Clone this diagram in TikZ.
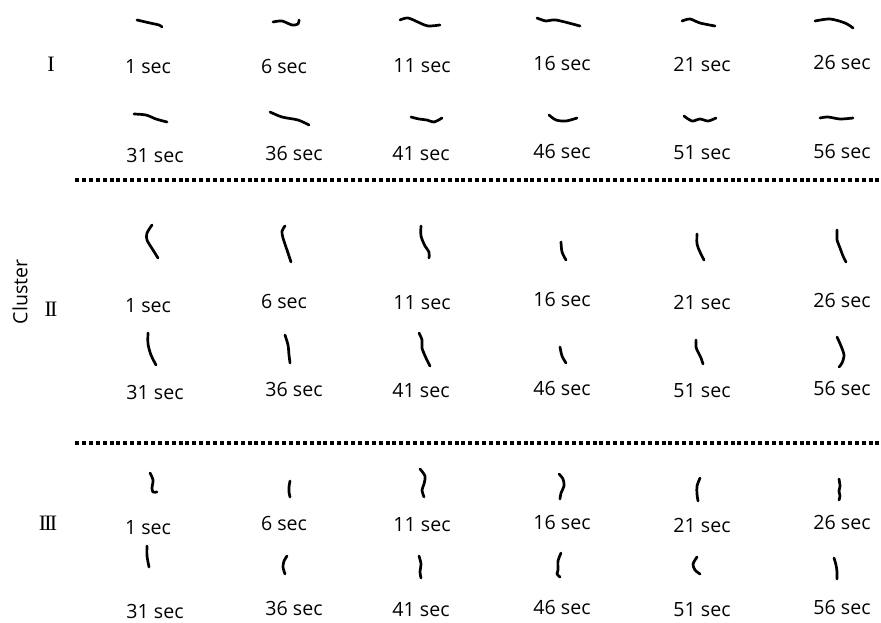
\documentclass[tikz,border=0pt]{standalone}
\usepackage{fontspec}
\setmainfont{Open Sans}
\newfontfamily\numfont{Liberation Serif}
\usetikzlibrary{arrows.meta}

\begin{document}
\begin{tikzpicture}[
    x=0.5pt,y=-0.5pt,
    timelabel/.style={font=\fontsize{9.8}{11}\selectfont,inner sep=0pt},
    clusterlabel/.style={font=\numfont\fontsize{11}{13}\selectfont,inner sep=0pt},
    axislabel/.style={font=\fontsize{9.8}{11}\selectfont,inner sep=0pt,rotate=90},
    stroke/.style={line width=1.35pt,line cap=round,line join=round},
    sep/.style={line width=2pt,dash pattern=on 2pt off 1.45pt}
]
\useasboundingbox (0,0) rectangle (881,622);

% axis and cluster names
\node[axislabel] (cluster) at (20,292) {Cluster};
\node[clusterlabel] (cI) at (51,64) {I};
\node[clusterlabel] (cII) at (51,309) {I\kern-0.08emI};
\node[clusterlabel] (cIII) at (48,523) {I\kern-0.08emI\kern-0.08emI};

% separators
\coordinate (s1a) at (75,180);
\coordinate (s1b) at (881,180);
\coordinate (s2a) at (75,443);
\coordinate (s2b) at (881,443);
\draw[sep] (s1a) -- (s1b);
\draw[sep] (s2a) -- (s2b);

% Cluster I
\foreach \k/\x/\y in {1/148/67,6/284/66,11/422/66,16/562/63,21/702/64,26/842/62,
                      31/155/155,36/294/153,41/421/154,46/562/151,51/702/153,56/842/151}
  \node[timelabel] (tI-\k) at (\x,\y) {\k\ sec};
\draw[stroke] plot[smooth] coordinates {(137,20) (150,23) (159,25) (162,27)};
\draw[stroke] plot[smooth] coordinates {(273,22) (282,21) (292,25) (298,24) (299,20)};
\draw[stroke] plot[smooth] coordinates {(400,20) (408,18) (420,23) (428,26) (440,25)};
\draw[stroke] plot[smooth] coordinates {(537,18) (546,21) (556,20) (580,26)};
\draw[stroke] plot[smooth] coordinates {(682,21) (690,19) (700,23) (715,26)};
\draw[stroke] plot[smooth] coordinates {(815,21) (830,19) (845,23) (853,28)};

\draw[stroke] plot[smooth] coordinates {(134,114) (146,115) (156,119) (167,122)};
\draw[stroke] plot[smooth] coordinates {(270,112) (282,117) (298,120) (309,125)};
\draw[stroke] plot[smooth] coordinates {(411,117) (419,119) (427,120) (434,122) (442,118)};
\draw[stroke] plot[smooth] coordinates {(549,115) (556,120) (566,121) (577,118)};
\draw[stroke] plot[smooth] coordinates {(684,116) (692,121) (700,119) (708,121) (716,118)};
\draw[stroke] plot[smooth] coordinates {(820,118) (828,117) (840,119) (853,118)};

% Cluster II
\foreach \k/\x/\y in {1/148/306,6/284/301,11/422/303,16/562/299,21/702/302,26/842/300,
                      31/155/392,36/294/389,41/421/391,46/562/388,51/702/391,56/842/388}
  \node[timelabel] (tII-\k) at (\x,\y) {\k\ sec};
\draw[stroke] plot[smooth] coordinates {(152,225) (147,233) (147,240) (153,250) (158,258)};
\draw[stroke] plot[smooth] coordinates {(285,226) (282,231) (283,238) (287,250) (291,262)};
\draw[stroke] plot[smooth] coordinates {(421,226) (421,236) (425,246) (429,252) (429,258)};
\draw[stroke] plot[smooth] coordinates {(561,242) (562,252) (566,260)};
\draw[stroke] plot[smooth] coordinates {(697,234) (697,244) (700,252) (704,260)};
\draw[stroke] plot[smooth] coordinates {(837,230) (837,236) (837,240) (840,248) (843,256) (846,262)};

\draw[stroke] plot[smooth] coordinates {(148,333) (148,344) (151,355) (156,365)};
\draw[stroke] plot[smooth] coordinates {(285,335) (288,345) (289,355) (290,363)};
\draw[stroke] plot[smooth] coordinates {(419,333) (422,340) (422,348) (426,358) (430,366)};
\draw[stroke] plot[smooth] coordinates {(560,347) (562,356) (566,363)};
\draw[stroke] plot[smooth] coordinates {(696,340) (696,347) (698,352) (701,358) (703,364)};
\draw[stroke] plot[smooth] coordinates {(837,337) (841,346) (844,355) (842,363) (839,367)};

% Cluster III
\foreach \k/\x/\y in {1/148/528,6/284/523,11/422/525,16/562/522,21/702/525,26/842/522,
                      31/155/611,36/294/608,41/421/610,46/562/607,51/702/610,56/842/607}
  \node[timelabel] (tIII-\k) at (\x,\y) {\k\ sec};
\draw[stroke] plot[smooth] coordinates {(150,473) (153,480) (152,488) (153,492) (157,492)};
\draw[stroke] plot[smooth] coordinates {(290,481) (289,487) (289,492) (290,497)};
\draw[stroke] plot[smooth] coordinates {(420,469) (425,476) (424,484) (422,490) (424,497)};
\draw[stroke] plot[smooth] coordinates {(559,474) (563,479) (564,486) (561,493) (560,499)};
\draw[stroke] plot[smooth] coordinates {(700,478) (697,486) (697,494) (698,501)};
\draw[stroke] plot[smooth] coordinates {(839,479) (840,486) (839,491) (840,496) (839,500)};

\draw[stroke] plot[smooth] coordinates {(147,546) (147,556) (149,567)};
\draw[stroke] plot[smooth] coordinates {(287,556) (284,561) (283,567) (285,574)};
\draw[stroke] plot[smooth] coordinates {(419,556) (421,564) (420,572) (421,578)};
\draw[stroke] plot[smooth] coordinates {(561,553) (558,561) (558,570) (557,574) (560,577)};
\draw[stroke] plot[smooth] coordinates {(697,557) (693,564) (695,570) (700,574)};
\draw[stroke] plot[smooth] coordinates {(834,558) (836,565) (837,572) (837,579)};
\end{tikzpicture}
\end{document}
